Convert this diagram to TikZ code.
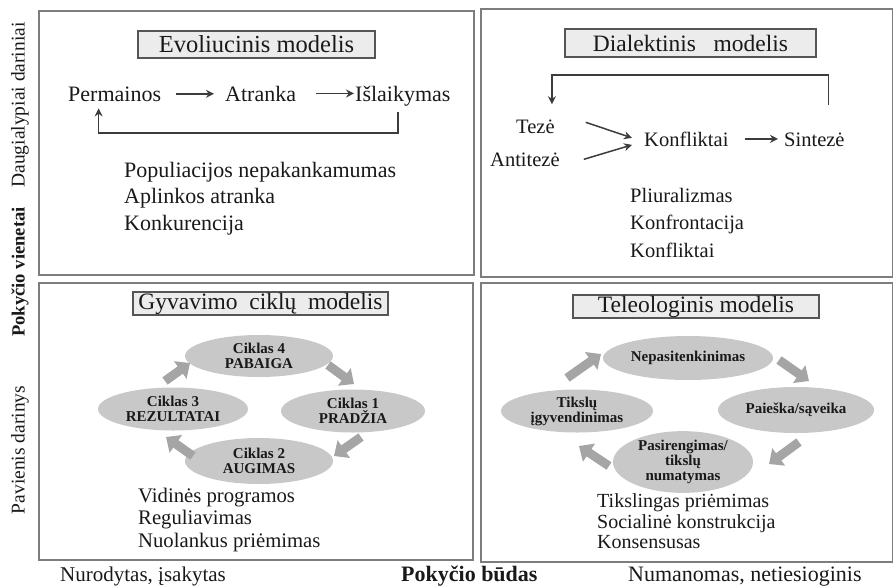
\documentclass[tikz,border=0pt]{standalone}
\usepackage{fontspec}
\setmainfont{Liberation Serif}
\usetikzlibrary{arrows.meta,shapes.geometric}
\newcommand\setfs[1]{\fontsize{#1}{#1}\selectfont}
\definecolor{ink}{RGB}{25,25,25}
\definecolor{frame}{RGB}{125,125,125}
\definecolor{titlefill}{RGB}{236,236,236}
\definecolor{titleline}{RGB}{85,85,85}
\definecolor{ovalfill}{RGB}{200,200,200}
\definecolor{blockgray}{RGB}{165,165,165}
\definecolor{arrowgray}{RGB}{60,60,60}
\begin{document}
\begin{tikzpicture}[x=1pt,y=-1pt,
  panel/.style={draw=frame,line width=1.6pt},
  titlebox/.style={draw=titleline,line width=1.2pt,fill=titlefill,inner sep=0pt,
    text=ink,font=\setfs{23.5}},
  txt/.style={inner sep=0pt,text=ink,anchor=base west},
  flow/.style={draw=arrowgray,line width=1.5pt,-{Stealth[length=8pt,width=8pt]}},
  oval/.style={ellipse,fill=ovalfill,inner sep=0pt,text=ink,align=center,
    font=\bfseries\fontsize{15}{15}\selectfont},
  blk/.style={draw=blockgray,line width=9pt,-{Triangle[length=12pt,width=21pt]}},
  axis/.style={inner sep=0pt,text=ink,rotate=90}]
\useasboundingbox (0,0) rectangle (894,587);

% four quadrants
\draw[panel] (39,11) rectangle (474,275);
\draw[panel] (481,9) rectangle (892.5,277);
\draw[panel] (39,283) rectangle (473,560);
\draw[panel] (481,283) rectangle (892.5,562);

% side and bottom axis labels
\node[axis,font=\setfs{19.5}] (ax1) at (20,105) {Daugialypiai dariniai};
\node[axis,font=\bfseries\setfs{18.6}] (ax2) at (20,272) {Pokyčio vienetai};
\node[axis,font=\setfs{19.5}] (ax3) at (20,450) {Pavienis darinys};
\node[txt,font=\setfs{21}] (bx1) at (60,581.5) {Nurodytas, įsakytas};
\node[txt,font=\bfseries\setfs{22}] (bx2) at (401,581.5) {Pokyčio būdas};
\node[txt,font=\setfs{22}] (bx3) at (628,581.5) {Numanomas, netiesioginis};

% ---- evolutionary model
\node[titlebox,font=\setfs{24.5},minimum width=237pt,minimum height=27pt] (tEvo) at (256.5,44.5) {Evoliucinis modelis};
\begin{scope}[every node/.style={txt,font=\setfs{22}}]
  \node (perm) at (68,101) {Permainos};
  \node (atr) at (225,101) {Atranka};
  \node (isl) at (355,101) {Išlaikymas};
  \node (e1) at (124,177) {Populiacijos nepakankamumas};
  \node (e2) at (124,203.5) {Aplinkos atranka};
  \node (e3) at (124,230) {Konkurencija};
\end{scope}
\draw[flow] ([xshift=15pt]perm.east) -- ([xshift=-11pt]perm.east -| atr.west);
\draw[flow] ([xshift=20pt]atr.east) -- ([xshift=-1pt]atr.east -| isl.west);
\draw[flow] ([xshift=-5pt,yshift=-6pt]isl.south) -- ++(0,21)
  -| ([xshift=-16pt,yshift=-7pt]perm.south);

% ---- dialectic model
\node[titlebox,minimum width=251pt,minimum height=28pt] (tDia) at (690.5,43) {Dialektinis\ \ \ modelis};
\begin{scope}[every node/.style={txt,font=\setfs{20.5}}]
  \node (teze) at (516,133) {Tezė};
  \node (anti) at (490,166) {Antitezė};
  \node (konf) at (644,146) {Konfliktai};
  \node (sint) at (784,146) {Sintezė};
  \node (d1) at (630,202) {Pliuralizmas};
  \node (d2) at (630,229.5) {Konfrontacija};
  \node (d3) at (630,257) {Konfliktai};
\end{scope}
\draw[flow] ([shift={(31pt,4pt)}]teze.east) -- ([shift={(-12pt,1pt)}]konf.west);
\draw[flow] ([xshift=24pt]anti.east) -- ([shift={(-12pt,-6pt)}]konf.west);
\draw[flow] ([xshift=16pt]konf.east) -- ([xshift=-6pt]konf.east -| sint.west);
\draw[flow] ([shift={(14pt,27pt)}]sint.north) -- ++(0,-30)
  -| ([shift={(16.5pt,15pt)}]teze.north);

% ---- life-cycle model
\node[titlebox,minimum width=255pt,minimum height=23pt] (tLife) at (260.5,303.5) {Gyvavimo\ \ ciklų\ \ modelis};
\node[oval,minimum width=148pt,minimum height=42pt] (c4) at (259,356) {Ciklas 4\\PABAIGA};
\node[oval,minimum width=150pt,minimum height=43pt] (c3) at (173,409) {Ciklas 3\\REZULTATAI};
\node[oval,minimum width=144pt,minimum height=43pt] (c1) at (353,411) {Ciklas 1\\PRADŽIA};
\node[oval,minimum width=148pt,minimum height=46pt] (c2) at (259,461) {Ciklas 2\\AUGIMAS};
\coordinate (l34a) at (165,381); \coordinate (l34b) at (190,363);
\coordinate (l41a) at (328,365); \coordinate (l41b) at (354,384);
\coordinate (l12a) at (361,437); \coordinate (l12b) at (334,456);
\coordinate (l23a) at (193,456); \coordinate (l23b) at (166,437);
\draw[blk] (l34a) -- (l34b);
\draw[blk] (l41a) -- (l41b);
\draw[blk] (l12a) -- (l12b);
\draw[blk] (l23a) -- (l23b);
\begin{scope}[every node/.style={txt,font=\setfs{20.7}}]
  \node (g1) at (138,502) {Vidinės programos};
  \node (g2) at (138,524.5) {Reguliavimas};
  \node (g3) at (138,547) {Nuolankus priėmimas};
\end{scope}

% ---- teleological model
\node[titlebox,minimum width=246pt,minimum height=23pt] (tTel) at (696,306.5) {Teleologinis modelis};
\node[oval,minimum width=170pt,minimum height=44pt] (n1) at (688,358) {Nepasitenkinimas};
\node[oval,minimum width=156pt,minimum height=46pt] (n2) at (796,410) {Paieška/sąveika};
\node[oval,minimum width=140pt,minimum height=58pt] (n3) at (683,462) {Pasirengimas/\\tikslų\\numatymas};
\node[oval,minimum width=152pt,minimum height=43pt] (n4) at (577,411) {Tikslų\\įgyvendinimas};
\coordinate (r41a) at (567,378); \coordinate (r41b) at (601,354);
\coordinate (r12a) at (779,360); \coordinate (r12b) at (809,381);
\coordinate (r23a) at (799,442); \coordinate (r23b) at (769,464);
\coordinate (r34a) at (609,466); \coordinate (r34b) at (579,446);
\draw[blk] (r41a) -- (r41b);
\draw[blk] (r12a) -- (r12b);
\draw[blk] (r23a) -- (r23b);
\draw[blk] (r34a) -- (r34b);
\begin{scope}[every node/.style={txt,font=\setfs{20}}]
  \node (p1) at (597,507) {Tikslingas priėmimas};
  \node (p2) at (597,528) {Socialinė konstrukcija};
  \node (p3) at (597,548.5) {Konsensusas};
\end{scope}
\end{tikzpicture}
\end{document}
